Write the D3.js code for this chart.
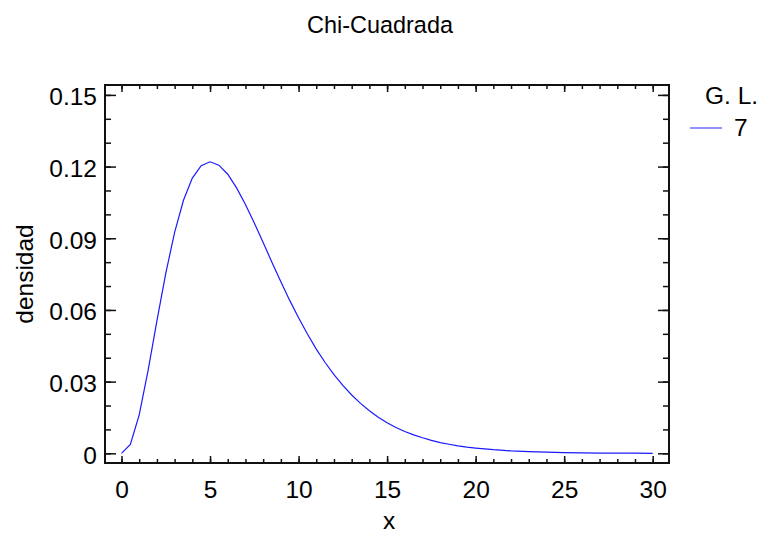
<!DOCTYPE html>
<html>
<head>
<meta charset="utf-8">
<script src="https://cdn.jsdelivr.net/npm/d3@7"></script>
<style>
  html, body { margin: 0; padding: 0; background: #fff; }
  svg { display: block; }
  text { font-family: "Liberation Sans", Arial, sans-serif; fill: #000; }
</style>
</head>
<body>
<svg id="chart" width="761" height="533"></svg>
<script>
// ---- data ----
const title = "Chi-Cuadrada";
const xLabel = "x";
const yLabel = "densidad";
const legendTitle = "G. L.";
const seriesName = "7";
const xValues = [0,0.5,1,1.5,2,2.5,3,3.5,4,4.5,5,5.5,6,6.5,7,7.5,8,8.5,9,9.5,10,10.5,11,11.5,12,12.5,13,13.5,14,14.5,15,15.5,16,16.5,17,17.5,18,18.5,19,19.5,20,21,22,23,24,25,26,27,28,29,30];
const yValues = [0,0.0037,0.0161,0.0346,0.0554,0.0753,0.0925,0.1059,0.1152,0.1204,0.1220,0.1206,0.1168,0.1111,0.1041,0.0964,0.0882,0.0799,0.0718,0.0640,0.0567,0.0499,0.0436,0.0380,0.0329,0.0284,0.0244,0.0209,0.0178,0.0151,0.0128,0.0108,0.0091,0.0077,0.0065,0.0054,0.0045,0.0038,0.0031,0.0026,0.0022,0.0015,0.0010,0.0007,0.0005,0.0003,0.0002,0.0001,0.0001,0.0001,0.0000];
const xTicks = [0,5,10,15,20,25,30];
const yTicks = [0,0.03,0.06,0.09,0.12,0.15];
const xMinorTicks = d3.range(0, 31, 1);
const yMinorTicks = d3.range(0, 16, 1).map(d => d / 100);

// ---- layout ----
const frame = { left: 105, right: 669, top: 85, bottom: 463 };
const svg = d3.select("#chart");

const x = d3.scaleLinear().domain([0, 30]).range([121.5, 652.7]);
const y = d3.scaleLinear().domain([0, 0.15]).range([453.3, 94.9]);

const fmtY = d => d === 0 ? "0" : d3.format(".2f")(d);

// ticks: inward on all four sides
const axisColor = "#111";
function tickGroup(axisGen, tx, ty) {
  const g = svg.append("g").attr("transform", `translate(${tx},${ty})`).call(axisGen);
  g.select(".domain").remove();
  g.selectAll("line").attr("stroke", axisColor).attr("stroke-width", 1.5);
  return g;
}
// bottom (major + minor)
tickGroup(d3.axisTop(x).tickValues(xMinorTicks).tickSize(4).tickFormat(""), 0, frame.bottom);
tickGroup(d3.axisTop(x).tickValues(xTicks).tickSize(7).tickFormat(""), 0, frame.bottom);
// top
tickGroup(d3.axisBottom(x).tickValues(xMinorTicks).tickSize(4).tickFormat(""), 0, frame.top);
tickGroup(d3.axisBottom(x).tickValues(xTicks).tickSize(7).tickFormat(""), 0, frame.top);
// left
tickGroup(d3.axisRight(y).tickValues(yMinorTicks).tickSize(6).tickFormat(""), frame.left, 0);
tickGroup(d3.axisRight(y).tickValues(yTicks).tickSize(11).tickFormat(""), frame.left, 0);
// right
tickGroup(d3.axisLeft(y).tickValues(yMinorTicks).tickSize(6).tickFormat(""), frame.right, 0);
tickGroup(d3.axisLeft(y).tickValues(yTicks).tickSize(11).tickFormat(""), frame.right, 0);

// tick labels
const xl = d3.axisBottom(x).tickValues(xTicks).tickSize(0).tickPadding(0).tickFormat(d3.format("d"));
const gxl = svg.append("g").attr("transform", `translate(0,${frame.bottom})`).call(xl);
gxl.select(".domain").remove();
gxl.selectAll("text").attr("font-size", 24.5).attr("font-family", "Liberation Sans, Arial, sans-serif")
   .attr("fill", "#000").attr("dy", null).attr("y", 35);

const yl = d3.axisLeft(y).tickValues(yTicks).tickSize(0).tickPadding(0).tickFormat(fmtY);
const gyl = svg.append("g").attr("transform", `translate(97,0)`).call(yl);
gyl.select(".domain").remove();
gyl.selectAll("text").attr("font-size", 24.5).attr("font-family", "Liberation Sans, Arial, sans-serif")
   .attr("fill", "#000").attr("dy", "0.4em").attr("x", 0);

// frame
svg.append("rect")
  .attr("x", frame.left).attr("y", frame.top)
  .attr("width", frame.right - frame.left).attr("height", frame.bottom - frame.top)
  .attr("fill", "none").attr("stroke", axisColor).attr("stroke-width", 2);

// curve
const line = d3.line().x((d, i) => x(xValues[i])).y(d => y(d));
svg.append("path")
  .datum(yValues)
  .attr("d", line)
  .attr("fill", "none")
  .attr("stroke", "#1a1aff")
  .attr("stroke-width", 1.2);

// title
svg.append("text")
  .attr("x", 380).attr("y", 33)
  .attr("text-anchor", "middle")
  .attr("font-size", 24.5)
  .attr("textLength", 146)
  .attr("lengthAdjust", "spacingAndGlyphs")
  .text(title);

// axis labels
svg.append("text")
  .attr("x", 389).attr("y", 529)
  .attr("text-anchor", "middle")
  .attr("font-size", 24.5)
  .text(xLabel);

svg.append("text")
  .attr("transform", "translate(33,274) rotate(-90)")
  .attr("text-anchor", "middle")
  .attr("font-size", 24.5)
  .text(yLabel);

// legend
svg.append("text")
  .attr("x", 705).attr("y", 104)
  .attr("font-size", 24.5)
  .text(legendTitle);
svg.append("line")
  .attr("x1", 690).attr("x2", 722)
  .attr("y1", 128).attr("y2", 128)
  .attr("stroke", "#4a4aff").attr("stroke-width", 1.2);
svg.append("text")
  .attr("x", 734).attr("y", 136)
  .attr("font-size", 24.5)
  .text(seriesName);
</script>
</body>
</html>
